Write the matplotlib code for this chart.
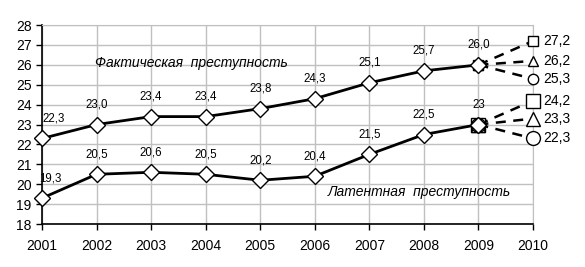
import matplotlib.pyplot as plt

plt.rcParams['font.family'] = ['Liberation Sans', 'DejaVu Sans']

# data
years = [2001, 2002, 2003, 2004, 2005, 2006, 2007, 2008, 2009]
fact = [22.3, 23.0, 23.4, 23.4, 23.8, 24.3, 25.1, 25.7, 26.0]
latent = [19.3, 20.5, 20.6, 20.5, 20.2, 20.4, 21.5, 22.5, 23.0]
fact_labels = ['22,3', '23,0', '23,4', '23,4', '23,8', '24,3', '25,1', '25,7', '26,0']
latent_labels = ['19,3', '20,5', '20,6', '20,5', '20,2', '20,4', '21,5', '22,5', '23']

# forecasts for 2010 (square, triangle, circle)
fact_fc = [27.2, 26.2, 25.3]
latent_fc = [24.2, 23.3, 22.3]
fc_markers = ['s', '^', 'o']

fig = plt.figure(figsize=(5.85, 2.67), dpi=100)
ax = fig.add_axes([0.0718, 0.161, 0.8393, 0.745])

# forecast dashed lines
for vals, base, ms in [(fact_fc, fact[-1], 7.5), (latent_fc, latent[-1], 10)]:
    for v, m in zip(vals, fc_markers):
        ax.plot([2009, 2010], [base, v], color='black', lw=1.8, ls=(0, (4, 3)),
                marker=m, ms=ms, mfc='white', mec='black', mew=1, zorder=3, clip_on=False)
        ax.text(2010.18, v, f'{v:.1f}'.replace('.', ','), fontsize=10,
                va='center', ha='left')

ax.plot(years, fact, color='black', lw=2, marker='D', ms=8, mfc='white',
        mec='black', mew=1, zorder=4, clip_on=False)
ax.plot(years, latent, color='black', lw=2, marker='D', ms=8, mfc='white',
        mec='black', mew=1, zorder=4, clip_on=False)

for i, (x, y) in enumerate(zip(years, fact)):
    dx = 0.22 if i == 0 else 0
    ax.text(x + dx, y + 1.0, fact_labels[i], fontsize=8.3, ha='center', va='center')
for i, (x, y) in enumerate(zip(years, latent)):
    dx = 0.15 if i == 0 else 0
    ax.text(x + dx, y + 1.0, latent_labels[i], fontsize=8.3, ha='center', va='center')

ax.text(2003.73, 26.09, 'Фактическая  преступность', fontsize=10, style='italic',
        ha='center', va='center')
ax.text(2007.92, 19.6, 'Латентная  преступность', fontsize=10, style='italic',
        ha='center', va='center')

ax.set_xlim(2001, 2010)
ax.set_ylim(18, 28)
ax.set_xticks(range(2001, 2011))
ax.set_yticks(range(18, 29))
ax.tick_params(labelsize=10, direction='out', length=4, width=1)
ax.tick_params(axis='x', pad=7)
ax.grid(True, color='#c0c0c0', lw=1)
ax.set_axisbelow(True)
for s in ['top', 'right']:
    ax.spines[s].set_color('#c0c0c0')
for s in ['left', 'bottom']:
    ax.spines[s].set_color('black')
    ax.spines[s].set_linewidth(1.2)

fig.savefig('out.png', dpi=100)
